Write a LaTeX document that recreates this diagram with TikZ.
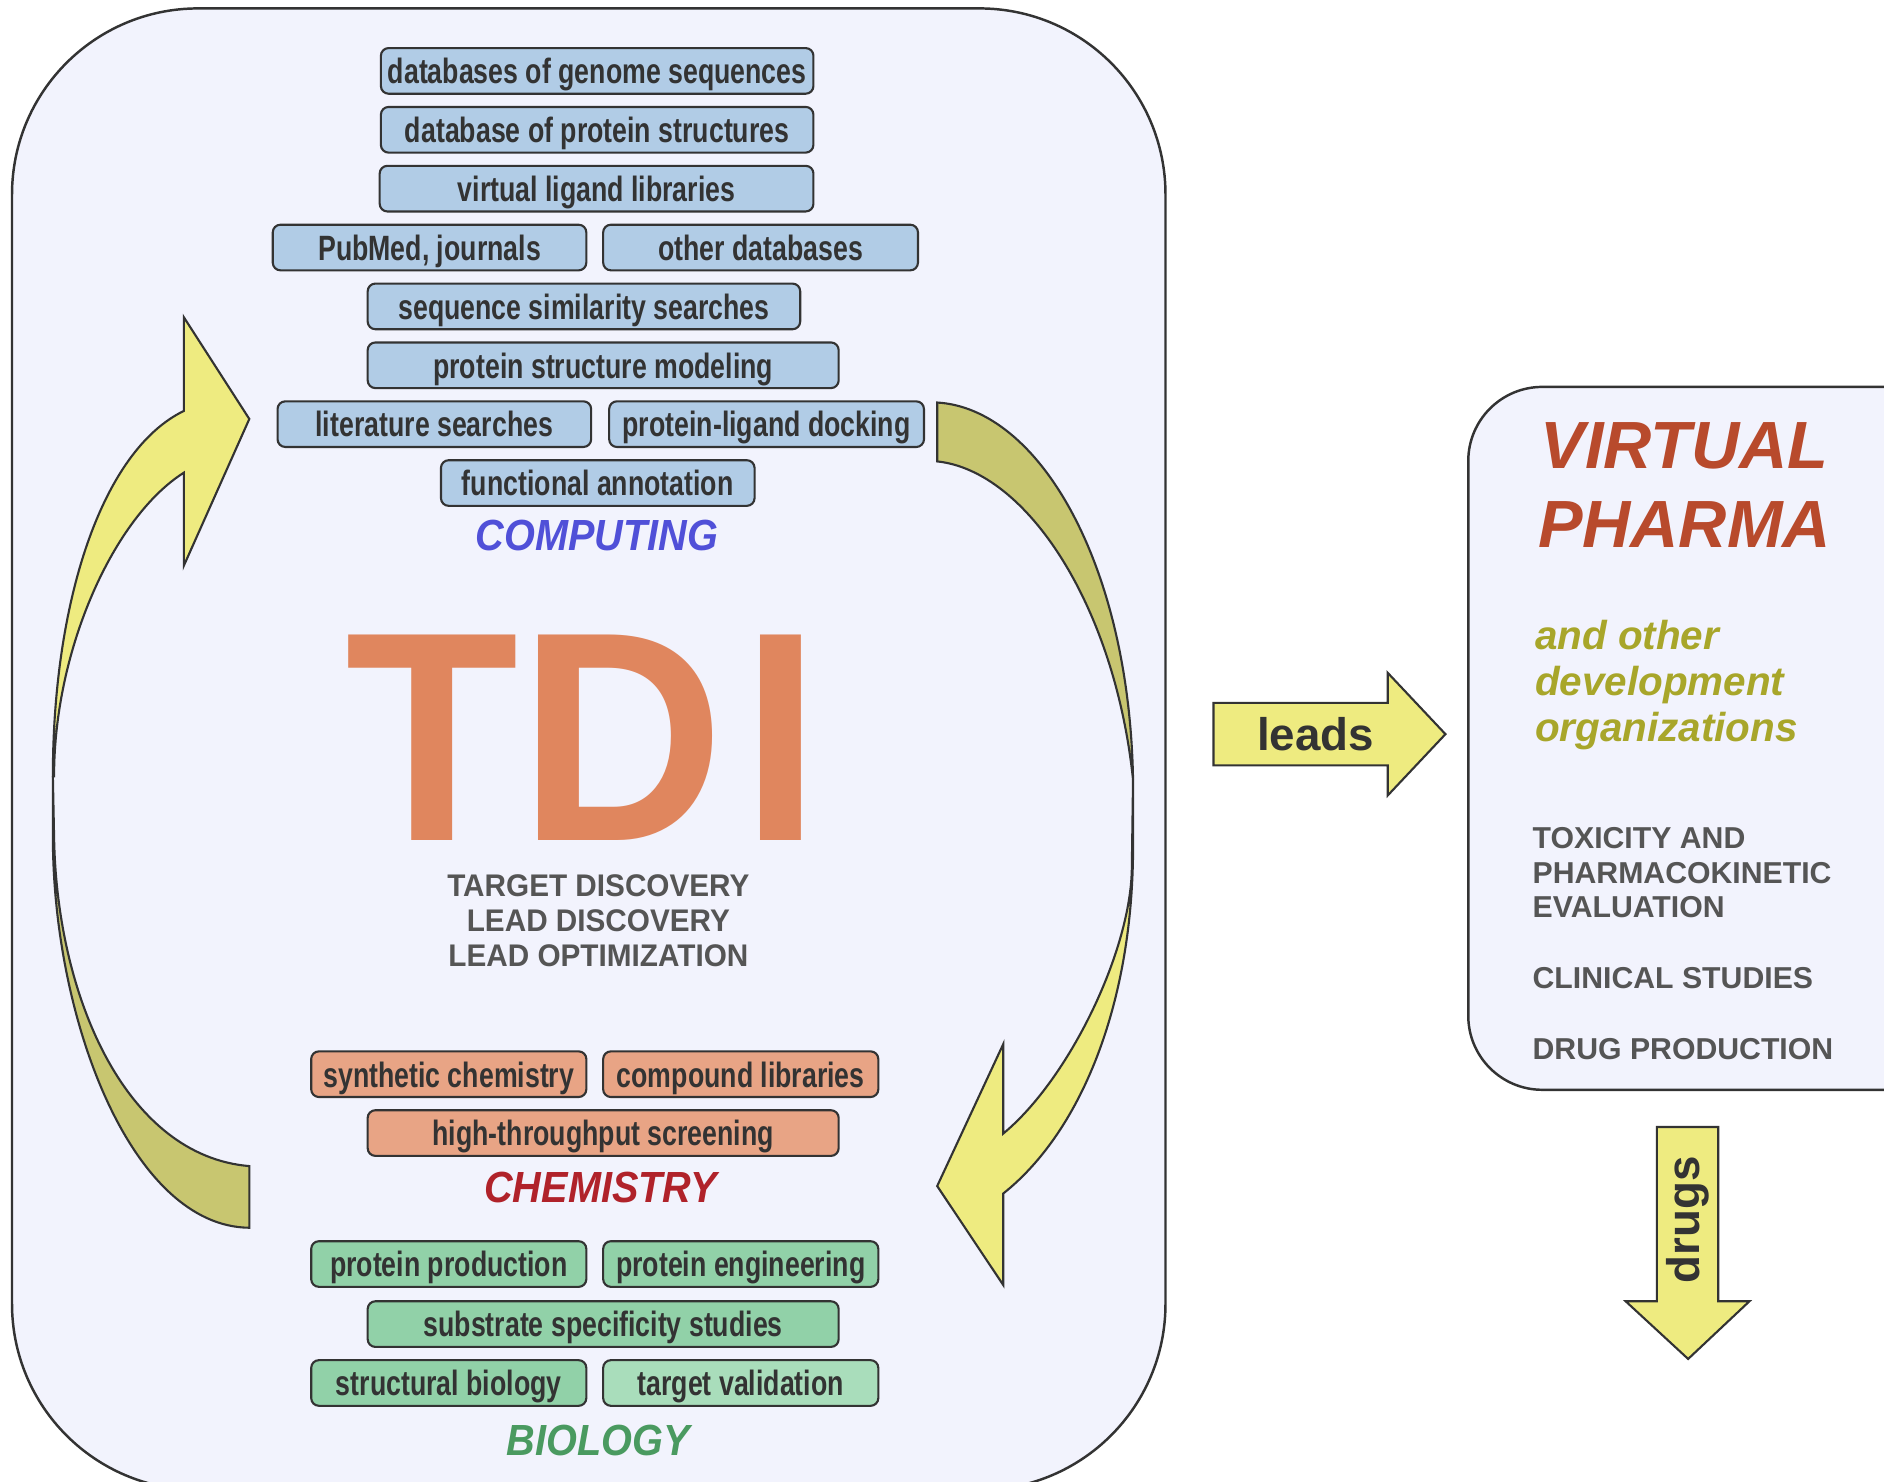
\documentclass[tikz,border=0pt]{standalone}
\usepackage{fontspec}
\setmainfont{Liberation Sans}
\newfontfamily\narrowsf[FakeStretch=0.76]{Liberation Sans}
\newfontfamily\slimsf[FakeStretch=0.91]{Liberation Sans}
\newfontfamily\midsf[FakeStretch=0.95]{Liberation Sans}
\usepackage{tikz}
\definecolor{panelfill}{HTML}{F2F3FD}
\definecolor{inkline}{HTML}{333333}
\definecolor{compfill}{HTML}{B1CCE6}
\definecolor{chemfill}{HTML}{E8A485}
\definecolor{biofill}{HTML}{91D1A8}
\definecolor{biolight}{HTML}{A9DDBB}
\definecolor{compblue}{HTML}{5050D8}
\definecolor{chemred}{HTML}{B0222A}
\definecolor{biogreen}{HTML}{4A9A60}
\definecolor{tdiorange}{HTML}{E0865E}
\definecolor{labelgray}{HTML}{555555}
\definecolor{pharmared}{HTML}{B84A2C}
\definecolor{devolive}{HTML}{A8A62A}
\definecolor{ribbonyellow}{HTML}{EEEB80}
\definecolor{ribbonolive}{HTML}{C8C670}
\newcommand\pxl{0.12015mm}
\tikzset{tile/.style={draw=inkline,line width=.6pt,rounded corners=2.2pt,inner sep=0pt,
    minimum height=38*\pxl,text height=8.6pt,text depth=1.3pt,text=inkline,
    font=\narrowsf\bfseries\fontsize{10}{12}\selectfont},
  comp/.style={tile,fill=compfill},
  chem/.style={tile,fill=chemfill},
  bio/.style={tile,fill=biofill},
  field/.style={font=\slimsf\bfseries\itshape\fontsize{12.4}{14}\selectfont},
  panel/.style={draw=inkline,line width=.7pt,fill=panelfill},
  ribbon/.style={draw=inkline,line width=.6pt},
  blockarrow/.style={draw=inkline,line width=.6pt,fill=ribbonyellow},
  caps/.style={font=\bfseries\fontsize{8.6}{9.9}\selectfont,text=labelgray,align=left,inner sep=0pt}}
\begin{document}
\begin{tikzpicture}[x=\pxl,y=-\pxl]
\useasboundingbox (0,0) rectangle (1568,1233);
\draw[panel,rounded corners=18.6mm] (10,7) rectangle (970,1240);
\draw[panel,rounded corners=7.4mm] (1222,322) rectangle (1640,907);

\filldraw[ribbon,fill=ribbonyellow] (44,646) .. controls (44,500) and (85,375) .. (153,342)
  -- (153,264) -- (207.5,348.7) -- (153,470.8) -- (153,393.4)
  .. controls (95,430) and (45,540) .. (45,646) -- cycle;
\filldraw[ribbon,fill=ribbonolive] (44,646) -- (44,696) .. controls (44,850) and (110,1021) .. (207.5,1021.8)
  -- (207.5,970.5) .. controls (105,962) and (47,830) .. (45,696) -- cycle;
\filldraw[ribbon,fill=ribbonolive] (780,335) .. controls (865,340) and (940,470) .. (943,649)
  .. controls (928,505) and (855,392) .. (780,384) -- cycle;
\filldraw[ribbon,fill=ribbonyellow] (943,649) -- (943,700) .. controls (944,830) and (902,940) .. (835,993.3)
  -- (835,1069.5) -- (780,987.1) -- (835,868.9) -- (835,943.4)
  .. controls (890,898) and (942,790) .. (942,721) -- cycle;

\foreach \n/\x/\y/\w/\txt in {c1/497/59/360/databases of genome sequences,
  c2/497/108/360/database of protein structures,
  c3/496.5/157/361/virtual ligand libraries,
  c4/357.5/206/261/{PubMed, journals},
  c5/633/206/262/other databases,
  c6/486/255/360/sequence similarity searches,
  c7/502/304/392/protein structure modeling,
  c8/361.5/353/261/literature searches,
  c9/638/353/262/protein-ligand docking,
  c10/497.5/402/261/functional annotation}
 \node[comp,minimum width=\w*\pxl] (\n) at (\x,\y) {\txt};
\node[field,text=compblue] (computing) at (497,446) {COMPUTING};

\node[text=tdiorange,font=\midsf\bfseries\fontsize{85}{85}\selectfont,inner sep=0pt] (tdi) at (485.5,614) {TD\kern5pt I};
\node[font=\midsf\bfseries\fontsize{8.9}{9.9}\selectfont,text=labelgray,align=center,anchor=base,inner sep=0pt]
 (stages) at (498,804) {TARGET DISCOVERY\\LEAD DISCOVERY\\LEAD OPTIMIZATION};

\foreach \n/\x/\y/\w/\txt in {h1/373.5/894/229/synthetic chemistry,
  h2/616.5/894/229/compound libraries,
  h3/502/943/392/high-throughput screening}
 \node[chem,minimum width=\w*\pxl] (\n) at (\x,\y) {\txt};
\node[field,text=chemred] (chemistry) at (500,988) {CHEMISTRY};

\foreach \n/\x/\y/\w/\txt in {b1/373.5/1052/229/protein production,
  b2/616.5/1052/229/protein engineering,
  b3/502/1102/392/substrate specificity studies,
  b4/373.5/1151/229/structural biology}
 \node[bio,minimum width=\w*\pxl] (\n) at (\x,\y) {\txt};
\node[bio,fill=biolight,minimum width=229*\pxl] (b5) at (616.5,1151) {target validation};
\node[field,text=biogreen] (biology) at (498,1199) {BIOLOGY};

\draw[blockarrow] (1010,585) -- (1155,585) -- (1155,560) -- (1203,611) -- (1155,662) -- (1155,637) -- (1010,637) -- cycle;
\node[font=\bfseries\fontsize{13}{15}\selectfont,text=inkline] (leads) at (1095,611) {leads};

\node[font=\bfseries\itshape\fontsize{19}{22.5}\selectfont,text=pharmared,align=center,anchor=base,inner sep=0pt]
 (pharma) at (1402,456) {VIRTUAL\\PHARMA};
\node[font=\bfseries\itshape\fontsize{11.5}{13.1}\selectfont,text=devolive,align=left,anchor=base west,inner sep=0pt]
 (devorg) at (1277,617) {and other\\development\\organizations};
\node[caps,anchor=base west] (tox) at (1275,764) {TOXICITY AND\\PHARMACOKINETIC\\EVALUATION};
\node[caps,anchor=base west] (clinic) at (1275,823) {CLINICAL STUDIES};
\node[caps,anchor=base west] (prod) at (1275,882) {DRUG PRODUCTION};

\draw[blockarrow] (1379,938) -- (1430,938) -- (1430,1083) -- (1456,1083) -- (1405,1131) -- (1353,1083) -- (1379,1083) -- cycle;
\node[rotate=90,font=\bfseries\fontsize{13}{15}\selectfont,text=inkline] (drugs) at (1405,1015) {drugs};
\end{tikzpicture}
\end{document}
